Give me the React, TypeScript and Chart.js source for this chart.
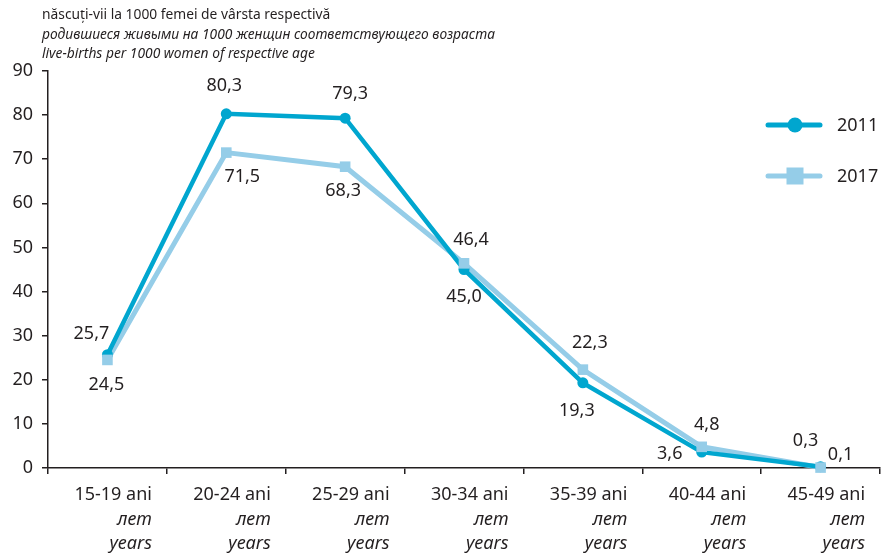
import React, { useEffect, useRef } from "react";
import { Chart, registerables } from "chart.js";

Chart.register(...registerables);

// ---- data ----
const categories = ["15-19", "20-24", "25-29", "30-34", "35-39", "40-44", "45-49"];
const values2011 = [25.7, 80.3, 79.3, 45.0, 19.3, 3.6, 0.3];
const values2017 = [24.5, 71.5, 68.3, 46.4, 22.3, 4.8, 0.1];
const seriesNames = ["2011", "2017"];
const yMin = 0;
const yMax = 90;
const yStep = 10;
const unitRo = "ani";
const unitRu = "лет";
const unitEn = "years";
const titleRo = "născuți-vii la 1000 femei de vârsta respectivă";
const titleRu = "родившиеся живыми на 1000 женщин соответствующего возраста";
const titleEn = "live-births per 1000 women of respective age";

// ---- styling ----
const FONT = "'Noto Sans', 'DejaVu Sans', sans-serif";
const TEXT = "#231f20";
const C2011 = "#00a6cf";
const C2017 = "#95cde8";
// target plot area
const AREA = { left: 48, right: 880, top: 71, bottom: 468 };
// label offsets (dx, dy) of the value text centre from its point
const labelOffsets2011 = [[-16, -21], [-2, -28], [5, -24], [0, 27], [-6, 28], [-32, 2], [-15, -26]];
const labelOffsets2017 = [[-1, 25], [16, 24], [-2, 24], [7, -23], [7, -27], [5, -22], [20, -13]];

const fmt = (v: number) => v.toFixed(1).replace(".", ",");

const overlayPlugin = {
  id: "overlay",
  afterDraw(chart: any) {
    const ctx = chart.ctx as CanvasRenderingContext2D;
    const xs = chart.scales.x;
    const ys = chart.scales.y;
    ctx.save();
    ctx.fillStyle = TEXT;

    // header
    ctx.textAlign = "left";
    ctx.textBaseline = "alphabetic";
    ctx.font = `13.8px ${FONT}`;
    ctx.fillText(titleRo, 42, 19);
    ctx.font = `italic 13.8px ${FONT}`;
    ctx.fillText(titleRu, 42, 39);
    ctx.fillText(titleEn, 42, 58);

    // x labels
    categories.forEach((c, i) => {
      const px = xs.getPixelForValue(i) + 44.5;
      ctx.textAlign = "right";
      ctx.font = `18px ${FONT}`;
      ctx.fillText(`${c} ${unitRo}`, px, 500);
      ctx.font = `italic 18px ${FONT}`;
      ctx.fillText(unitRu, px, 525);
      ctx.fillText(unitEn, px, 549);
    });

    // data labels
    ctx.font = `18px ${FONT}`;
    ctx.textAlign = "center";
    ctx.textBaseline = "middle";
    const drawLabels = (vals: number[], offs: number[][]) => {
      vals.forEach((v, i) => {
        const px = xs.getPixelForValue(i);
        const py = ys.getPixelForValue(v);
        ctx.fillText(fmt(v), px + offs[i][0], py + offs[i][1]);
      });
    };
    drawLabels(values2011, labelOffsets2011);
    drawLabels(values2017, labelOffsets2017);

    // legend
    const lx0 = 768, lx1 = 820, mx = 795, tx = 837;
    const ly = [125, 176];
    ctx.lineCap = "round";
    ctx.lineWidth = 5;
    ctx.strokeStyle = C2011;
    ctx.beginPath();
    ctx.moveTo(lx0, ly[0]);
    ctx.lineTo(lx1, ly[0]);
    ctx.stroke();
    ctx.fillStyle = C2011;
    ctx.beginPath();
    ctx.arc(mx, ly[0], 7.5, 0, Math.PI * 2);
    ctx.fill();

    ctx.strokeStyle = C2017;
    ctx.beginPath();
    ctx.moveTo(lx0, ly[1]);
    ctx.lineTo(lx1, ly[1]);
    ctx.stroke();
    ctx.fillStyle = C2017;
    ctx.fillRect(mx - 8.5, ly[1] - 8.5, 17, 17);

    ctx.fillStyle = TEXT;
    ctx.textAlign = "left";
    ctx.textBaseline = "middle";
    ctx.font = `18px ${FONT}`;
    ctx.fillText(seriesNames[0], tx, ly[0] + 1);
    ctx.fillText(seriesNames[1], tx, ly[1] + 1);

    ctx.restore();
  },
};

export default function App() {
  const ref = useRef<HTMLCanvasElement | null>(null);

  useEffect(() => {
    if (!ref.current) return;
    const dims = { yWidth: AREA.left, xHeight: 555 - AREA.bottom };
    const padding = { top: AREA.top, left: 0, right: 881 - AREA.right, bottom: 0 };
    const options: any = {
      responsive: false,
      animation: false,
      devicePixelRatio: 1,
      layout: { padding, autoPadding: false },
      plugins: {
        legend: { display: false },
        tooltip: { enabled: false },
        title: { display: false },
      },
      events: [],
      scales: {
        x: {
          type: "category",
          offset: true,
          grid: {
            display: true,
            offset: true,
            drawOnChartArea: false,
            drawTicks: true,
            tickLength: 6,
            color: TEXT,
            lineWidth: 1.5,
          },
          border: { display: true, color: TEXT, width: 1.5 },
          ticks: { display: false },
          afterFit: (s: any) => {
            s.height = dims.xHeight;
          },
        },
        y: {
          min: yMin,
          max: yMax,
          grid: {
            display: true,
            drawOnChartArea: false,
            drawTicks: true,
            tickLength: 6,
            color: TEXT,
            lineWidth: 1.5,
          },
          border: { display: true, color: TEXT, width: 1.5 },
          ticks: {
            stepSize: yStep,
            color: TEXT,
            padding: 9,
            font: { family: FONT, size: 18 },
          },
          afterFit: (s: any) => {
            s.width = dims.yWidth;
          },
        },
      },
    };
    const chart = new Chart(ref.current, {
      type: "line",
      data: {
        labels: categories,
        datasets: [
          {
            label: seriesNames[1] + " points",
            data: values2017,
            showLine: false,
            pointStyle: "rect",
            pointRadius: 7.5,
            pointBackgroundColor: C2017,
            pointBorderWidth: 0,
            borderColor: C2017,
            clip: false,
            order: 0,
          },
          {
            label: seriesNames[0] + " points",
            data: values2011,
            showLine: false,
            pointStyle: "circle",
            pointRadius: 5.5,
            pointBackgroundColor: C2011,
            pointBorderWidth: 0,
            borderColor: C2011,
            clip: false,
            order: 1,
          },
          {
            label: seriesNames[0],
            data: values2011,
            borderColor: C2011,
            borderWidth: 4.5,
            pointRadius: 0,
            tension: 0,
            fill: false,
            clip: false,
            order: 2,
          },
          {
            label: seriesNames[1],
            data: values2017,
            borderColor: C2017,
            borderWidth: 5,
            pointRadius: 0,
            tension: 0,
            fill: false,
            clip: false,
            order: 3,
          },
        ],
      },
      options,
      plugins: [overlayPlugin],
    });
    for (let k = 0; k < 3; k++) {
      const ca = chart.chartArea;
      const next = {
        top: padding.top + (AREA.top - ca.top),
        left: 0,
        right: padding.right + (ca.right - AREA.right),
        bottom: 0,
      };
      Object.assign(padding, next);
      dims.yWidth += AREA.left - ca.left;
      dims.xHeight += ca.bottom - AREA.bottom;
      (chart as any).options.layout = { padding: { ...next }, autoPadding: false };
      chart.update();
    }
    return () => chart.destroy();
  }, []);

  return (
    <div style={{ position: "absolute", left: 0, top: 0, width: 881, height: 555, background: "#fff" }}>
      <canvas ref={ref} width={881} height={555} style={{ display: "block", width: 881, height: 555 }} />
    </div>
  );
}
